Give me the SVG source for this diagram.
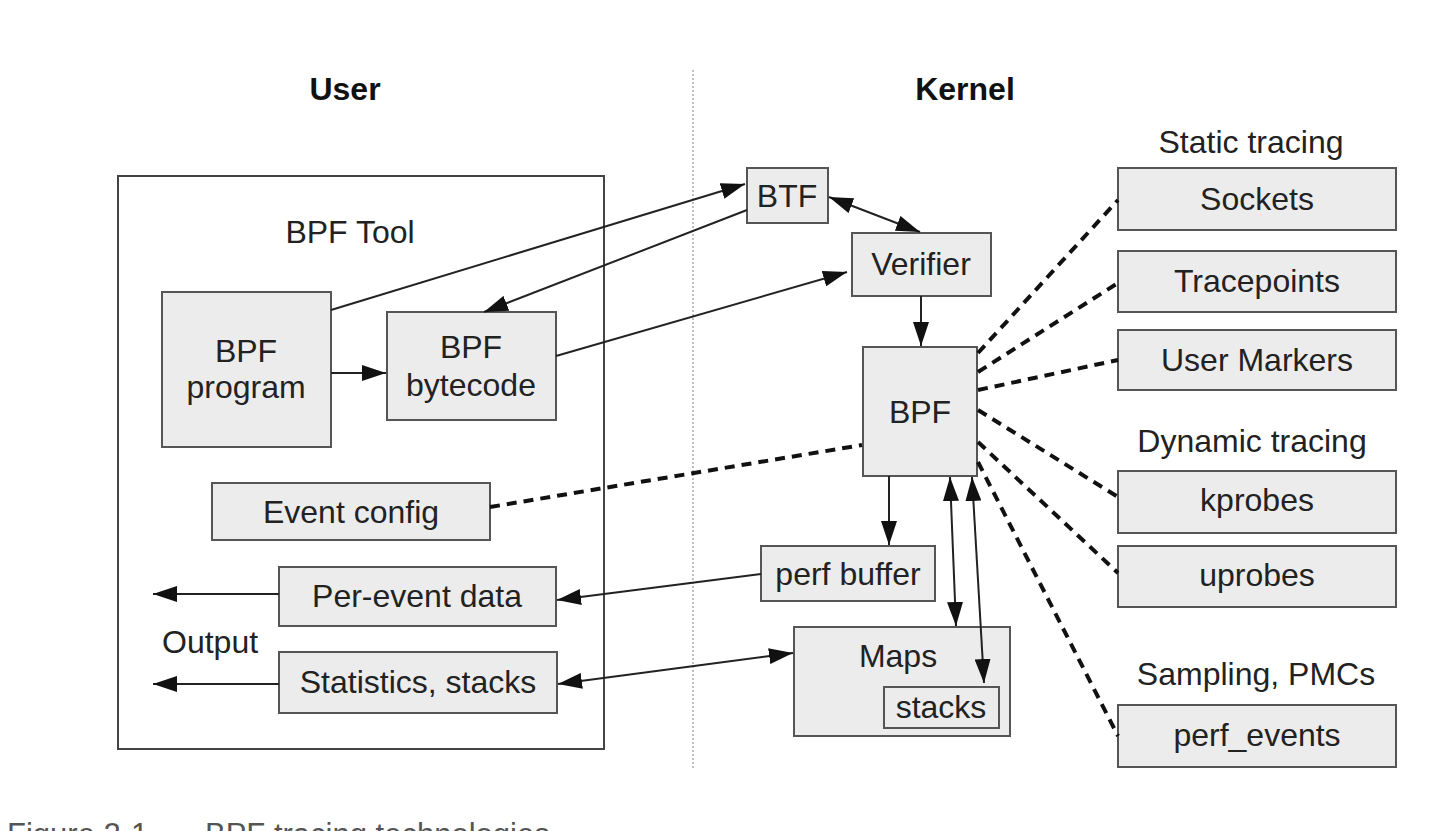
<svg xmlns="http://www.w3.org/2000/svg" width="1437" height="831" viewBox="0 0 1437 831">
<defs>
<style>
text{font-family:"Liberation Sans",Arial,sans-serif;font-size:32px;fill:#222;text-anchor:middle}
.h{font-weight:bold;fill:#111}
.box{fill:#ececec;stroke:#555;stroke-width:2}
.frame{fill:#fff;stroke:#444;stroke-width:2}
.ln{fill:none;stroke:#222;stroke-width:2}
.dash{fill:none;stroke:#111;stroke-width:4;stroke-dasharray:10 7}
.cap{font-size:31px;fill:#555;text-anchor:start}
</style>
<marker id="ah" markerUnits="userSpaceOnUse" viewBox="0 0 24 16" markerWidth="24" markerHeight="16" refX="24" refY="8" orient="auto-start-reverse">
<path d="M0,0 L24,8 L0,16 z" fill="#111"/>
</marker>
</defs>
<rect width="1437" height="831" fill="#fff"/>
<line x1="693" y1="70" x2="693" y2="770" stroke="#aaa" stroke-width="1.5" stroke-dasharray="2 2"/>
<text class="h" x="345" y="100">User</text>
<text class="h" x="965" y="100">Kernel</text>

<g id="bpf-tool">
<rect class="frame" x="118" y="176" width="486" height="573"/>
<text x="350" y="243">BPF Tool</text>
</g>
<g id="bpf-program"><rect class="box" x="162" y="292" width="169" height="155"/><text x="246" y="362">BPF</text><text x="246" y="398">program</text></g>
<g id="bpf-bytecode"><rect class="box" x="387" y="312" width="169" height="108"/><text x="471" y="358">BPF</text><text x="471" y="396">bytecode</text></g>
<g id="event-config"><rect class="box" x="212" y="483" width="278" height="57"/><text x="351" y="523">Event config</text></g>
<g id="per-event-data"><rect class="box" x="279" y="567" width="277" height="59"/><text x="417" y="607">Per-event data</text></g>
<g id="output"><text x="162" y="653" style="text-anchor:start">Output</text></g>
<g id="statistics"><rect class="box" x="279" y="652" width="278" height="61"/><text x="418" y="693">Statistics, stacks</text></g>

<g id="btf"><rect class="box" x="747" y="168" width="81" height="55"/><text x="787" y="207">BTF</text></g>
<g id="verifier"><rect class="box" x="852" y="233" width="139" height="63"/><text x="921" y="275">Verifier</text></g>
<g id="bpf"><rect class="box" x="863" y="347" width="114" height="129"/><text x="920" y="423">BPF</text></g>
<g id="perf-buffer"><rect class="box" x="761" y="546" width="174" height="55"/><text x="848" y="585">perf buffer</text></g>
<g id="maps"><rect class="box" x="794" y="627" width="216" height="109"/><text x="898" y="667">Maps</text>
<rect class="box" x="884" y="687" width="115" height="41"/><text x="941" y="718">stacks</text></g>

<g id="static-label"><text x="1251" y="153">Static tracing</text></g>
<g id="sockets"><rect class="box" x="1118" y="168" width="278" height="62"/><text x="1257" y="210">Sockets</text></g>
<g id="tracepoints"><rect class="box" x="1118" y="251" width="278" height="61"/><text x="1257" y="292">Tracepoints</text></g>
<g id="user-markers"><rect class="box" x="1118" y="330" width="278" height="60"/><text x="1257" y="371">User Markers</text></g>
<g id="dynamic-label"><text x="1252" y="452">Dynamic tracing</text></g>
<g id="kprobes"><rect class="box" x="1118" y="471" width="278" height="62"/><text x="1257" y="511">kprobes</text></g>
<g id="uprobes"><rect class="box" x="1118" y="546" width="278" height="61"/><text x="1257" y="586">uprobes</text></g>
<g id="sampling-label"><text x="1256" y="685">Sampling, PMCs</text></g>
<g id="perf-events"><rect class="box" x="1118" y="705" width="278" height="62"/><text x="1257" y="746">perf_events</text></g>

<g id="connectors">
<line class="ln" x1="331" y1="310" x2="745" y2="184" marker-end="url(#ah)"/>
<line class="ln" x1="747" y1="210" x2="484" y2="312" marker-end="url(#ah)"/>
<line class="ln" x1="556" y1="356" x2="847" y2="272" marker-end="url(#ah)"/>
<line class="ln" x1="829" y1="197" x2="920" y2="232" marker-start="url(#ah)" marker-end="url(#ah)"/>
<line class="ln" x1="921" y1="296" x2="921" y2="346" marker-end="url(#ah)"/>
<line class="ln" x1="331" y1="373" x2="386" y2="373" marker-end="url(#ah)"/>
<line class="ln" x1="889" y1="476" x2="889" y2="545" marker-end="url(#ah)"/>
<line class="ln" x1="761" y1="574" x2="557" y2="600" marker-end="url(#ah)"/>
<line class="ln" x1="558" y1="684" x2="793" y2="653" marker-start="url(#ah)" marker-end="url(#ah)"/>
<line class="ln" x1="950" y1="477" x2="956" y2="626" marker-start="url(#ah)" marker-end="url(#ah)"/>
<line class="ln" x1="972" y1="477" x2="984" y2="683" marker-start="url(#ah)" marker-end="url(#ah)"/>
<line class="ln" x1="279" y1="594" x2="153" y2="594" marker-end="url(#ah)"/>
<line class="ln" x1="279" y1="684" x2="153" y2="684" marker-end="url(#ah)"/>
<line class="dash" x1="490" y1="507" x2="862" y2="445"/>
<line class="dash" x1="978" y1="353" x2="1118" y2="200"/>
<line class="dash" x1="978" y1="372" x2="1118" y2="283"/>
<line class="dash" x1="978" y1="390" x2="1118" y2="360"/>
<line class="dash" x1="978" y1="410" x2="1118" y2="497"/>
<line class="dash" x1="978" y1="442" x2="1118" y2="573"/>
<line class="dash" x1="978" y1="462" x2="1118" y2="736"/>
</g>
<text class="cap" x="7" y="845">Figure 2-1<tspan x="205">BPF tracing technologies</tspan></text>
</svg>
